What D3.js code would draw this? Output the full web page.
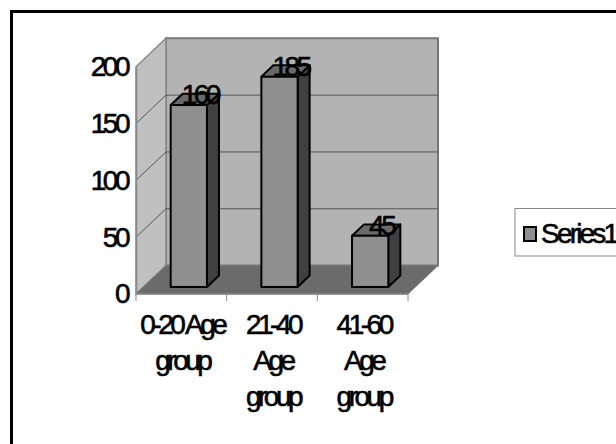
<!DOCTYPE html>
<html lang="en">
<head>
    <meta charset="UTF-8">
    <title>Age group chart</title>
    <script src="https://d3js.org/d3.v7.min.js"></script>
    <style>
        body { margin: 0; background: #fff; }
        svg text {
            font-family: "Liberation Sans", Arial, sans-serif;
            font-size: 28px;
            letter-spacing: -3.5px;
            fill: #000;
            stroke: #000;
            stroke-width: 0.6px;
        }
    </style>
</head>
<body>
    <svg width="616" height="444"></svg>

    <script>
        // data
        const categories = ["0-20 Age group", "21-40 Age group", "41-60 Age group"];
        const values = [160, 185, 45];
        const seriesName = "Series1";
        const yTicks = [0, 50, 100, 150, 200];

        const svg = d3.select("svg");

        // plot area (front plane) and depth offset of the 3d box
        const plotLeft = 136, plotRight = 408, plotBottom = 294, plotTop = 66.7;
        const depthX = 30, depthY = -28.4;

        const x = d3.scaleBand().domain(categories).range([plotLeft, plotRight]).padding(0);
        const y = d3.scaleLinear().domain([0, 200]).range([plotBottom, plotTop]);

        // point at (px, value, depth 0..1)
        const P = (px, v, d) => [px + d * depthX, y(v) + d * depthY];
        const poly = pts => "M" + pts.map(p => p.join(",")).join("L") + "Z";

        // outer border, runs off the right and bottom edge
        svg.append("rect")
            .attr("x", 11.5).attr("y", 11.5)
            .attr("width", 640).attr("height", 460)
            .attr("fill", "none").attr("stroke", "#000").attr("stroke-width", 3);

        const g = svg.append("g");

        // back wall
        g.append("path")
            .attr("d", poly([P(plotLeft, 0, 1), P(plotLeft, 200, 1), P(plotRight, 200, 1), P(plotRight, 0, 1)]))
            .attr("fill", "#b3b3b3").attr("stroke", "#777").attr("stroke-width", 2);

        // side wall
        g.append("path")
            .attr("d", poly([P(plotLeft, 0, 0), P(plotLeft, 200, 0), P(plotLeft, 200, 1), P(plotLeft, 0, 1)]))
            .attr("fill", "#c0c0c0").attr("stroke", "#888").attr("stroke-width", 1.5);

        // gridlines on side wall and back wall
        const grid = yTicks.filter(t => t > 0 && t < 200);
        g.selectAll(".grid")
            .data(grid)
            .join("path")
            .attr("class", "grid")
            .attr("d", t => "M" + P(plotLeft, t, 0) + "L" + P(plotLeft, t, 1) + "L" + P(plotRight, t, 1))
            .attr("fill", "none").attr("stroke", "#555").attr("stroke-width", 1);

        // floor
        g.append("path")
            .attr("d", poly([P(plotLeft, 0, 0), P(plotRight, 0, 0), P(plotRight, 0, 1), P(plotLeft, 0, 1)]))
            .attr("fill", "#6b6b6b").attr("stroke", "#777").attr("stroke-width", 1);

        // y axis
        const yAxis = g.append("g")
            .attr("transform", `translate(${plotLeft},0)`)
            .call(d3.axisLeft(y).tickValues(yTicks).tickSize(0).tickPadding(9));
        yAxis.select(".domain").attr("stroke", "#888").attr("stroke-width", 1.5);
        yAxis.attr("font-size", null).attr("font-family", null);

        // category axis: line with ticks at band edges
        g.append("line")
            .attr("x1", plotLeft).attr("x2", plotRight)
            .attr("y1", plotBottom).attr("y2", plotBottom)
            .attr("stroke", "#888").attr("stroke-width", 1.5);
        const edges = categories.map(c => x(c)).concat([plotRight]);
        g.selectAll(".xtick")
            .data(edges)
            .join("line")
            .attr("class", "xtick")
            .attr("x1", d => d).attr("x2", d => d)
            .attr("y1", plotBottom).attr("y2", plotBottom + 7)
            .attr("stroke", "#888").attr("stroke-width", 1);

        // bars
        const d0 = 0.25, d1 = 0.65;
        const bw = x.bandwidth() * 0.4;
        const bars = g.selectAll(".bar")
            .data(categories.map((c, i) => ({ c, v: values[i] })))
            .join("g")
            .attr("class", "bar");

        const bx = d => x(d.c) + (x.bandwidth() - bw) / 2;

        bars.append("path") // side
            .attr("d", d => poly([P(bx(d) + bw, 0, d0), P(bx(d) + bw, d.v, d0), P(bx(d) + bw, d.v, d1), P(bx(d) + bw, 0, d1)]))
            .attr("fill", "#404040").attr("stroke", "#000").attr("stroke-width", 2).attr("stroke-linejoin", "round");
        bars.append("path") // top
            .attr("d", d => poly([P(bx(d), d.v, d0), P(bx(d) + bw, d.v, d0), P(bx(d) + bw, d.v, d1), P(bx(d), d.v, d1)]))
            .attr("fill", "#6a6a6a").attr("stroke", "#000").attr("stroke-width", 2).attr("stroke-linejoin", "round");
        bars.append("path") // front
            .attr("d", d => poly([P(bx(d), 0, d0), P(bx(d), d.v, d0), P(bx(d) + bw, d.v, d0), P(bx(d) + bw, 0, d0)]))
            .attr("fill", "#8f8f8f").attr("stroke", "#000").attr("stroke-width", 2).attr("stroke-linejoin", "round");

        // value labels
        bars.append("text")
            .attr("x", d => P(bx(d) + bw / 2, d.v, d0)[0] + 11)
            .attr("y", d => P(bx(d) + bw / 2, d.v, d0)[1] - 1)
            .attr("text-anchor", "middle")
            .text(d => d.v);

        // category labels, wrapped to the band width
        const lab = g.selectAll(".cat")
            .data(categories)
            .join("text")
            .attr("class", "cat")
            .attr("text-anchor", "middle")
            .attr("x", c => x(c) + x.bandwidth() / 2 + 1)
            .attr("y", plotBottom + 40);

        lab.each(function (c) {
            const t = d3.select(this);
            const words = c.split(" ");
            let line = [];
            let ts = t.append("tspan").attr("x", t.attr("x")).attr("dy", 0);
            words.forEach(w => {
                line.push(w);
                ts.text(line.join(" "));
                if (ts.node().getComputedTextLength() > x.bandwidth() && line.length > 1) {
                    line.pop();
                    ts.text(line.join(" "));
                    line = [w];
                    ts = t.append("tspan").attr("x", t.attr("x")).attr("dy", 36).text(w);
                }
            });
        });

        // legend
        const leg = svg.append("g").attr("transform", "translate(515,208.5)");
        leg.append("rect")
            .attr("width", 120).attr("height", 47.5)
            .attr("fill", "#fff").attr("stroke", "#888").attr("stroke-width", 1);
        leg.append("rect")
            .attr("x", 9).attr("y", 18.5)
            .attr("width", 12).attr("height", 14)
            .attr("fill", "#8f8f8f").attr("stroke", "#000").attr("stroke-width", 2);
        leg.append("text")
            .attr("x", 26).attr("y", 34)
            .style("letter-spacing", "-2.8px")
            .text(seriesName);
    </script>
</body>
</html>
